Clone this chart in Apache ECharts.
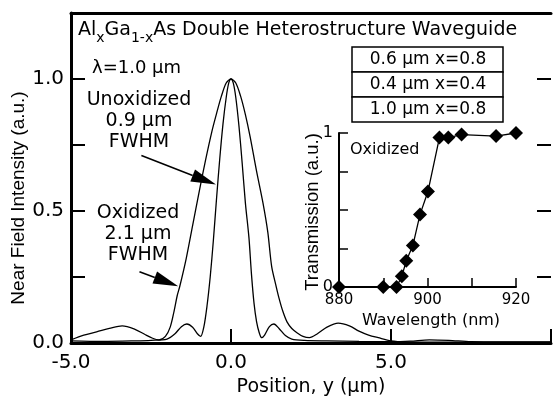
<!DOCTYPE html>
<html><head><meta charset="utf-8">
<script src="https://cdn.jsdelivr.net/npm/echarts@6/dist/echarts.min.js"></script>
<style>html,body{margin:0;padding:0;background:#fff}#c{width:554px;height:402px}</style>
</head><body><div id="c"></div>
<script>
// Main plot: near-field intensity vs position (µm)
const oxX = [-5.0,-4.6,-4.2,-3.8,-3.4,-3.0,-2.7,-2.45,-2.25,-2.05,-1.9,-1.78,-1.68,-1.6,-1.4,-1.2,-1.0,-0.8,-0.6,-0.45,-0.3,-0.15,0,0.15,0.3,0.45,0.6,0.8,1.0,1.15,1.27,1.4,1.5,1.62,1.75,1.9,2.05,2.25,2.45,2.7,3.0,3.35,3.7,4.0,4.3,4.6,5.0,5.5,6.5,8.0,10.0];
const oxY = [0.012,0.03,0.042,0.055,0.065,0.052,0.033,0.018,0.012,0.025,0.06,0.12,0.18,0.215,0.32,0.445,0.57,0.69,0.80,0.87,0.935,0.985,1.0,0.985,0.935,0.865,0.78,0.65,0.53,0.42,0.29,0.22,0.17,0.12,0.08,0.055,0.04,0.025,0.02,0.035,0.06,0.075,0.065,0.045,0.03,0.02,0.008,0.004,0.003,0.003,0.003];
const unX = [-5.0,-4.0,-3.0,-2.5,-2.0,-1.75,-1.55,-1.38,-1.2,-1.05,-0.95,-0.85,-0.75,-0.65,-0.55,-0.45,-0.35,-0.25,-0.15,-0.07,0,0.07,0.15,0.25,0.35,0.45,0.56,0.64,0.72,0.8,0.88,0.96,1.05,1.2,1.34,1.5,1.7,1.9,2.3,3.0,4.0,5.0,5.6,6.2,6.8,7.5,8.5,10.0];
const unY = [0.008,0.006,0.008,0.01,0.015,0.035,0.062,0.072,0.06,0.035,0.025,0.06,0.14,0.25,0.39,0.55,0.70,0.83,0.93,0.985,1.0,0.985,0.93,0.82,0.68,0.53,0.40,0.26,0.15,0.08,0.04,0.02,0.03,0.062,0.072,0.055,0.028,0.015,0.01,0.008,0.006,0.005,0.007,0.012,0.01,0.005,0.004,0.004];
const xTicks = [-5, 0, 5];
const yTicks = [0, 0.5, 1.0];
// Inset: transmission vs wavelength (nm)
const wl = [880,890,893,894.2,895.2,896.7,898.3,900.1,902.7,904.7,907.7,915.5,920];
const tr = [0,0,0,0.07,0.17,0.27,0.47,0.62,0.97,0.97,0.99,0.98,1.0];
const insetXTicks = [880, 900, 920];
const insetYTicks = [0, 1];
// Legend table rows
const layers = ['0.6 µm x=0.8', '0.4 µm x=0.4', '1.0 µm x=0.8'];
// Annotation arrows [start, tip] in data coordinates
const arrowUn = [[-2.8, 0.71], [-0.47, 0.60]];
const arrowOx = [[-2.86, 0.27], [-1.65, 0.215]];

const HF = 'DejaVu Sans';
const VF = 'Liberation Sans';
const zip = (a, b) => a.map((v, i) => [v, b[i]]);
const chart = echarts.init(document.getElementById('c'), null, {renderer: 'canvas'});
const near = (v, arr) => arr.some(t => Math.abs(t - v) < 1e-6);
const line3 = {onZero: false, lineStyle: {color: '#000', width: 3}};
const line2 = {onZero: false, lineStyle: {color: '#000', width: 2}};

chart.setOption({
  animation: false,
  grid: [
    {left: 71, right: 0, top: 13, bottom: 56},
    {left: 339, top: 133, width: 177, height: 154}
  ],
  xAxis: [
    {gridIndex: 0, type: 'value', min: -5, max: 10, interval: 5, position: 'bottom',
     axisLine: line3,
     axisTick: {inside: true, length: 14, lineStyle: {color: '#000', width: 2}},
     axisLabel: {color: '#000', fontSize: 20, fontFamily: HF, margin: 10,
       formatter: v => near(v, xTicks) ? v.toFixed(1) : ''},
     splitLine: {show: false},
     name: 'Position, y (µm)', nameLocation: 'middle', nameGap: 35,
     nameTextStyle: {color: '#000', fontSize: 19, fontFamily: HF}},
    {gridIndex: 0, type: 'value', min: -5, max: 10, position: 'top',
     axisLine: line3, axisTick: {show: false},
     axisLabel: {show: false}, splitLine: {show: false}},
    {gridIndex: 1, type: 'value', min: 880, max: 920, interval: 10,
     axisLine: line2,
     axisTick: {inside: true, length: 9, lineStyle: {color: '#000', width: 1.5}},
     axisLabel: {color: '#000', fontSize: 15, fontFamily: HF, margin: 6,
       formatter: v => near(v, insetXTicks) ? String(v) : ''},
     splitLine: {show: false}}
  ],
  yAxis: [
    {gridIndex: 0, type: 'value', min: 0, max: 1.25, interval: 0.25, position: 'left',
     axisLine: line3,
     axisTick: {inside: true, length: 14, lineStyle: {color: '#000', width: 2}},
     axisLabel: {color: '#000', fontSize: 20, fontFamily: HF, margin: 7,
       formatter: v => near(v, yTicks) ? v.toFixed(1) : ''},
     splitLine: {show: false}},
    {gridIndex: 0, type: 'value', min: 0, max: 1.25, interval: 0.25, position: 'right',
     axisLine: {show: false, onZero: false},
     axisTick: {inside: true, length: 14, lineStyle: {color: '#000', width: 2}},
     axisLabel: {show: false}, splitLine: {show: false}},
    {gridIndex: 1, type: 'value', min: 0, max: 1, interval: 0.25,
     axisLine: line2,
     axisTick: {inside: true, length: 9, lineStyle: {color: '#000', width: 1.5}},
     axisLabel: {color: '#000', fontSize: 16, fontFamily: HF, margin: 6,
       formatter: v => near(v, insetYTicks) ? String(v) : ''},
     splitLine: {show: false}}
  ],
  series: [
    {type: 'line', xAxisIndex: 0, yAxisIndex: 0, data: zip(oxX, oxY), showSymbol: false,
     smooth: 0.3, lineStyle: {color: '#000', width: 1.3}},
    {type: 'line', xAxisIndex: 0, yAxisIndex: 0, data: zip(unX, unY), showSymbol: false,
     smooth: 0.3, lineStyle: {color: '#000', width: 1.3}},
    {type: 'line', xAxisIndex: 2, yAxisIndex: 2, data: zip(wl, tr), symbol: 'diamond',
     symbolSize: 14, itemStyle: {color: '#000'}, lineStyle: {color: '#000', width: 1.3}}
  ]
});

function arrow(pts) {
  const a = chart.convertToPixel({gridIndex: 0}, pts[0]);
  const b = chart.convertToPixel({gridIndex: 0}, pts[1]);
  const dx = b[0] - a[0], dy = b[1] - a[1];
  const L = Math.hypot(dx, dy), ux = dx / L, uy = dy / L;
  const hl = 25, hw = 6.5;
  const bx = b[0] - ux * hl, by = b[1] - uy * hl;
  return [
    {type: 'line', shape: {x1: a[0], y1: a[1], x2: bx, y2: by}, style: {stroke: '#000', lineWidth: 1.5}},
    {type: 'polygon', shape: {points: [[b[0], b[1]], [bx - uy * hw, by + ux * hw], [bx + uy * hw, by - ux * hw]]},
     style: {fill: '#000'}}
  ];
}

const txt = (x, y, t, size, align, fam) => ({type: 'text', x: x, y: y,
  style: {text: t, fill: '#000', font: size + 'px "' + (fam || HF) + '"', textAlign: align || 'left', textVerticalAlign: 'middle'}});

const g = [];
g.push({type: 'text', x: 78, y: 21, style: {
  text: '{m|Al}{s|x}{m|Ga}{s|1-x}{m|As Double Heterostructure Waveguide}',
  textVerticalAlign: 'top', fill: '#000',
  rich: {
    m: {fontSize: 19, fontFamily: HF, lineHeight: 22, verticalAlign: 'top', fill: '#000'},
    s: {fontSize: 14, fontFamily: HF, lineHeight: 14, padding: [10, 0, 0, 0], verticalAlign: 'top', fill: '#000'}
  }}});
g.push(txt(92, 68, 'λ=1.0 µm', 18, 'left'));
g.push(txt(139, 100, 'Unoxidized', 19, 'center'));
g.push(txt(139, 121, '0.9 µm', 19, 'center'));
g.push(txt(139, 142, 'FWHM', 19, 'center'));
g.push(txt(138, 213, 'Oxidized', 19, 'center'));
g.push(txt(138, 234, '2.1 µm', 19, 'center'));
g.push(txt(138, 255, 'FWHM', 19, 'center'));
arrow(arrowUn).forEach(e => g.push(e));
arrow(arrowOx).forEach(e => g.push(e));
layers.forEach((t, i) => {
  g.push({type: 'rect', shape: {x: 352, y: 47 + i * 25, width: 151, height: 25},
    style: {fill: '#fff', stroke: '#000', lineWidth: 1.5}});
  g.push(txt(428, 60 + i * 25, t, 17, 'center'));
});
g.push(txt(350, 150, 'Oxidized', 16, 'left'));
g.push(txt(431, 321, 'Wavelength (nm)', 16, 'center'));
g.push({type: 'text', x: 313, y: 212, rotation: Math.PI / 2,
  style: {text: 'Transmission (a.u.)', fill: '#000', font: '18.5px "' + VF + '"', textAlign: 'center', textVerticalAlign: 'middle'}});
g.push({type: 'text', x: 19, y: 198, rotation: Math.PI / 2,
  style: {text: 'Near Field Intensity (a.u.)', fill: '#000', font: '19px "' + VF + '"', textAlign: 'center', textVerticalAlign: 'middle'}});

chart.setOption({graphic: {elements: g}});
</script></body></html>
